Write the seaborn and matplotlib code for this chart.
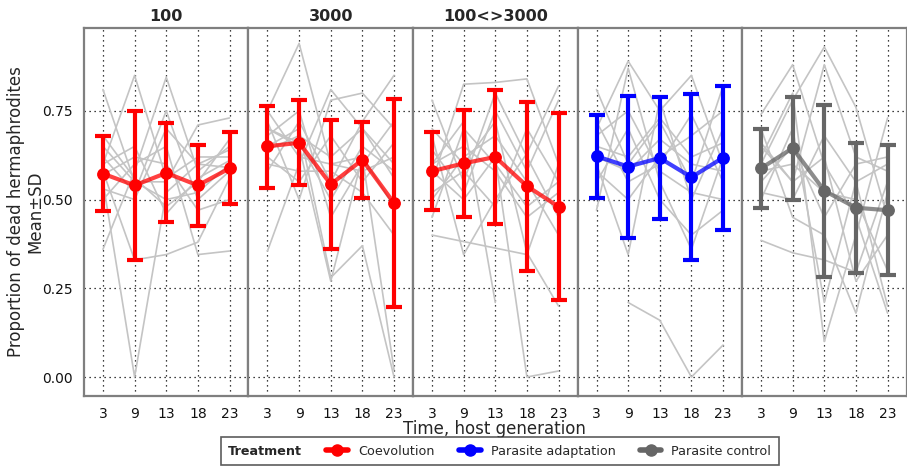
import numpy as np
import pandas as pd
import matplotlib
matplotlib.use("Agg")
import matplotlib.pyplot as plt
from matplotlib.lines import Line2D
import seaborn as sns

generations = [3, 9, 13, 18, 23]
panels = ["100", "3000", "100<>3000", "adapt", "control"]
panel_titles = ["100", "3000", "100<>3000", "", ""]
panel_treatment = ["Coevolution", "Coevolution", "Coevolution", "Parasite adaptation", "Parasite control"]
treatments = ["Coevolution", "Parasite adaptation", "Parasite control"]
treatment_colors = {"Coevolution": "#FF0000", "Parasite adaptation": "#0000FF", "Parasite control": "#666666"}

mean_100 = [0.573, 0.540, 0.575, 0.540, 0.588]
lo_100 = [0.467, 0.330, 0.437, 0.425, 0.487]
hi_100 = [0.680, 0.750, 0.715, 0.655, 0.690]

mean_3000 = [0.650, 0.660, 0.543, 0.612, 0.490]
lo_3000 = [0.532, 0.540, 0.360, 0.505, 0.197]
hi_3000 = [0.765, 0.780, 0.725, 0.718, 0.783]

mean_mix = [0.580, 0.602, 0.620, 0.538, 0.480]
lo_mix = [0.472, 0.452, 0.432, 0.300, 0.217]
hi_mix = [0.690, 0.752, 0.808, 0.776, 0.743]

mean_adapt = [0.622, 0.593, 0.617, 0.563, 0.618]
lo_adapt = [0.505, 0.393, 0.445, 0.330, 0.415]
hi_adapt = [0.738, 0.793, 0.789, 0.797, 0.820]

mean_ctrl = [0.588, 0.645, 0.525, 0.477, 0.470]
lo_ctrl = [0.475, 0.500, 0.283, 0.293, 0.287]
hi_ctrl = [0.700, 0.790, 0.766, 0.660, 0.653]

nan = np.nan
reps_100 = [
    [0.81, 0.55, 0.50, 0.52, 0.60],
    [0.55, 0.00, 0.52, 0.60, 0.64],
    [0.60, 0.85, 0.56, 0.62, 0.62],
    [0.36, 0.58, 0.845, 0.58, 0.65],
    [0.62, 0.52, 0.75, 0.50, 0.58],
    [0.58, 0.33, 0.345, 0.38, 0.56],
    [0.65, 0.55, 0.55, 0.71, 0.73],
    [0.50, 0.60, 0.65, 0.345, 0.355],
    [0.68, 0.56, 0.48, 0.55, 0.67],
    [0.57, 0.62, 0.60, 0.47, 0.50],
    [0.53, 0.50, 0.70, 0.60, 0.59],
    [0.60, 0.65, 0.46, 0.56, 0.61],
]
reps_3000 = [
    [0.75, 0.94, 0.60, 0.62, 0.48],
    [0.355, 0.60, 0.81, 0.70, 0.56],
    [0.72, 0.50, 0.78, 0.80, 0.70],
    [0.70, 0.65, 0.27, 0.62, 0.02],
    [0.65, 0.70, 0.28, 0.37, 0.00],
    [0.58, 0.72, 0.55, 0.72, 0.85],
    [0.75, 0.62, 0.60, 0.58, 0.62],
    [0.70, 0.66, 0.50, 0.65, 0.58],
    [0.62, 0.55, 0.68, 0.55, 0.66],
    [0.68, 0.75, 0.45, 0.60, 0.72],
    [0.64, 0.68, 0.62, 0.70, 0.60],
    [0.60, 0.58, 0.58, 0.52, 0.40],
]
reps_mix = [
    [0.40, nan, nan, 0.345, 0.60],
    [0.78, 0.55, 0.80, 0.62, 0.45],
    [0.55, 0.825, 0.83, 0.84, 0.60],
    [0.68, 0.345, 0.50, 0.63, 0.82],
    [0.60, 0.72, 0.21, nan, nan],
    [0.58, 0.50, 0.62, 0.00, 0.017],
    [0.70, 0.60, 0.72, 0.35, 0.20],
    [0.52, 0.58, 0.48, 0.70, 0.55],
    [0.60, 0.65, 0.58, 0.45, 0.52],
    [0.64, 0.52, 0.75, 0.58, 0.78],
    [0.50, 0.62, 0.68, 0.55, 0.40],
    [0.45, 0.70, 0.60, 0.48, 0.55],
]
reps_adapt = [
    [nan, 0.21, 0.16, 0.00, 0.09],
    [0.81, 0.60, 0.72, 0.55, 0.82],
    [0.70, 0.89, 0.75, 0.85, 0.60],
    [0.47, 0.87, 0.55, 0.36, 0.62],
    [0.60, 0.345, 0.78, 0.50, 0.70],
    [0.72, 0.55, 0.60, 0.74, 0.55],
    [0.55, 0.70, 0.50, 0.40, 0.47],
    [0.65, 0.62, 0.73, 0.62, 0.66],
    [0.58, 0.50, 0.62, 0.68, 0.75],
    [0.68, 0.75, 0.58, 0.52, 0.50],
    [0.62, 0.58, 0.67, 0.60, 0.58],
]
reps_ctrl = [
    [0.385, 0.35, 0.33, 0.295, 0.55],
    [0.74, 0.88, 0.60, 0.45, 0.18],
    [0.60, 0.78, 0.93, 0.76, 0.45],
    [0.65, 0.55, 0.88, 0.62, 0.58],
    [0.62, 0.80, 0.10, 0.40, 0.73],
    [0.50, 0.70, 0.21, 0.55, 0.60],
    [0.70, 0.45, 0.40, 0.18, 0.52],
    [0.58, 0.60, 0.52, 0.50, 0.30],
    [0.66, 0.55, 0.62, 0.27, 0.40],
    [0.55, 0.65, 0.45, 0.60, 0.62],
    [0.52, 0.50, 0.68, 0.55, 0.20],
]

means = [mean_100, mean_3000, mean_mix, mean_adapt, mean_ctrl]
los = [lo_100, lo_3000, lo_mix, lo_adapt, lo_ctrl]
his = [hi_100, hi_3000, hi_mix, hi_adapt, hi_ctrl]
reps = [reps_100, reps_3000, reps_mix, reps_adapt, reps_ctrl]

sns.set_style("white")
plt.rcParams["font.family"] = ["DejaVu Sans"]

fig, axes = plt.subplots(1, 5, sharey=True, figsize=(9.07, 4.69), dpi=100)
plt.subplots_adjust(left=0.0926, right=0.9995, top=0.94, bottom=0.156, wspace=0)

xpos = np.arange(len(generations))
for i, ax in enumerate(axes):
    rows = []
    for r, vals in enumerate(reps[i]):
        for k, v in enumerate(vals):
            if not np.isnan(v):
                rows.append({"x": k, "y": v, "rep": r})
    df = pd.DataFrame(rows)
    sns.lineplot(data=df, x="x", y="y", units="rep", estimator=None, color="#C4C4C4",
                 lw=1.2, ax=ax, zorder=2, legend=False)
    col = treatment_colors[panel_treatment[i]]
    m = np.array(means[i])
    lo = np.array(los[i]); hi = np.array(his[i])
    ax.errorbar(xpos, m, yerr=[m - lo, hi - m], fmt="none", ecolor=col,
                elinewidth=3, capsize=5.7, capthick=3, zorder=4)
    mdf = pd.DataFrame({"x": xpos, "y": m})
    sns.lineplot(data=mdf, x="x", y="y", color=col, lw=3, alpha=0.75, ax=ax, zorder=5, legend=False)
    ax.plot(xpos, m, "o", color=col, ms=8.2, zorder=6)

    ax.set_xlim(-0.6, 4.6)
    ax.set_ylim(-0.053, 0.983)
    ax.set_xticks(xpos)
    ax.set_xticklabels([str(g) for g in generations], fontsize=10)
    ax.set_yticks([0.0, 0.25, 0.5, 0.75])
    ax.set_yticklabels(["0.00", "0.25", "0.50", "0.75"], fontsize=10)
    ax.grid(True, linestyle=(0, (1, 3)), color="black", lw=0.9, zorder=1)
    ax.set_axisbelow(True)
    for s in ax.spines.values():
        s.set_color("#7f7f7f")
        s.set_linewidth(1.6)
    ax.tick_params(axis="x", length=5, width=1.2, color="#333333", labelcolor="#111111", pad=3)
    ax.tick_params(axis="y", length=5 if i == 0 else 0, width=1.2, color="#333333", labelcolor="#111111", pad=3)
    ax.set_xlabel("")
    ax.set_ylabel("")
    if panel_titles[i]:
        ax.set_title(panel_titles[i], fontsize=11.5, fontweight="bold", pad=5)

fig.text(0.0285, 0.548, "Proportion of dead hermaphrodites\nMean\u00b1SD", rotation=90,
         ha="center", va="center", fontsize=12, linespacing=1.12, multialignment="center")
fig.text(0.5455, 0.085, "Time, host generation", ha="center", va="center", fontsize=12)

handles = [Line2D([], [], linestyle="none", marker="", label="Treatment")]
for t in treatments:
    handles.append(Line2D([], [], color=treatment_colors[t], lw=4, marker="o", ms=8, label=t))
leg = fig.legend(handles=handles, loc="center", bbox_to_anchor=(0.551, 0.038), ncol=4,
                 frameon=True, fontsize=9.2, handlelength=1.7, columnspacing=1.9,
                 borderpad=0.6, handletextpad=0.78, fancybox=False, edgecolor="#333333")
leg.get_frame().set_linewidth(1.2)
leg.get_texts()[0].set_fontweight("bold")
# collapse the empty handle slot of the "Treatment" label so it sits at the box's left
try:
    first_col = leg._legend_handle_box.get_children()[0]
    first_item = first_col.get_children()[0]
    first_item.get_children()[0].width = 0
    first_item.sep = 0
except Exception:
    pass

fig.savefig("out.png", dpi=100)
